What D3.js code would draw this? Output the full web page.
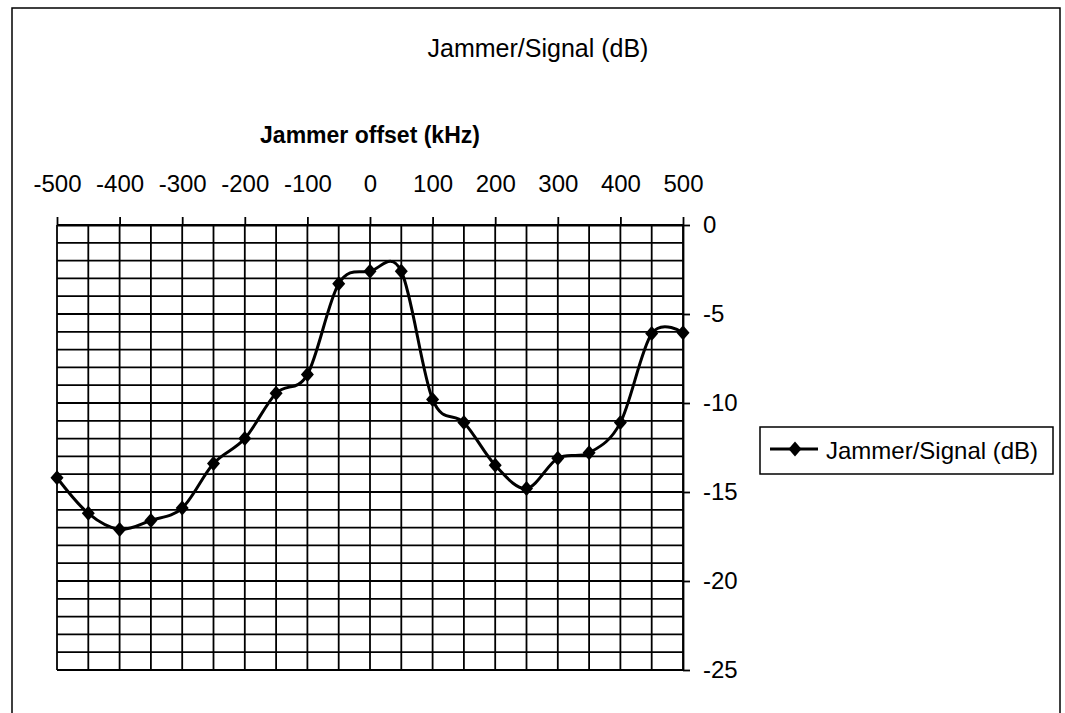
<!DOCTYPE html>
<html>
<head>
<meta charset="utf-8">
<script src="https://cdn.jsdelivr.net/npm/d3@7"></script>
<style>
  body { margin: 0; background: #fff; }
  svg { display: block; font-family: "Liberation Sans", Arial, sans-serif; }
</style>
</head>
<body>
<svg id="chart" width="1065" height="713"></svg>
<script>
// jammer offset in kHz
const offsets = [-500, -450, -400, -350, -300, -250, -200, -150, -100, -50, 0,
                 50, 100, 150, 200, 250, 300, 350, 400, 450, 500]
// jammer/signal ratio in dB
const jsValues = [-14.2, -16.2, -17.1, -16.6, -15.9, -13.4, -12.0, -9.45, -8.4, -3.3, -2.6,
                  -2.6, -9.8, -11.1, -13.5, -14.8, -13.1, -12.8, -11.1, -6.1, -6.05]
const xTicks = [-500, -400, -300, -200, -100, 0, 100, 200, 300, 400, 500]
const xGrid = d3.range(-500, 501, 50)
const yTicks = [0, -5, -10, -15, -20, -25]
const yGrid = d3.range(0, -26, -1)

const seriesName = 'Jammer/Signal (dB)'
const xTitle = 'Jammer offset (kHz)'

const svg = d3.select('#chart')
const plot = { left: 57, right: 683, top: 225, bottom: 670 }

const x = d3.scaleLinear().domain([-500, 500]).range([plot.left, plot.right])
const y = d3.scaleLinear().domain([0, -25]).range([plot.top, plot.bottom])

// outer chart frame
svg.append('rect')
  .attr('x', 12).attr('y', 8)
  .attr('width', 1048).attr('height', 720)
  .attr('fill', 'none').attr('stroke', '#000').attr('stroke-width', 1.5)

// title
svg.append('text')
  .attr('x', 538).attr('y', 57)
  .attr('text-anchor', 'middle')
  .attr('font-size', 25)
  .text(seriesName)

// x axis title
svg.append('text')
  .attr('x', (plot.left + plot.right) / 2).attr('y', 143)
  .attr('text-anchor', 'middle')
  .attr('font-size', 23).attr('font-weight', 'bold')
  .text(xTitle)

// grid
const grid = svg.append('g').attr('stroke', '#000').attr('stroke-width', 1.8)
grid.selectAll('.vgrid').data(xGrid).enter().append('line')
  .attr('class', 'vgrid')
  .attr('x1', d => x(d)).attr('x2', d => x(d))
  .attr('y1', plot.top).attr('y2', plot.bottom)
grid.selectAll('.hgrid').data(yGrid).enter().append('line')
  .attr('class', 'hgrid')
  .attr('x1', plot.left).attr('x2', plot.right)
  .attr('y1', d => y(d)).attr('y2', d => y(d))

// axes (plain hyphen for negatives, like the original)
const fmt = d => String(d)
const xAxis = svg.append('g')
  .attr('transform', `translate(0,${plot.top})`)
  .call(d3.axisTop(x).tickValues(xTicks).tickFormat(fmt)
    .tickSizeInner(8).tickSizeOuter(0).tickPadding(25))
const yAxis = svg.append('g')
  .attr('transform', `translate(${plot.right},0)`)
  .call(d3.axisRight(y).tickValues(yTicks).tickFormat(fmt)
    .tickSizeInner(7).tickSizeOuter(0).tickPadding(13))

;[xAxis, yAxis].forEach(a => {
  a.attr('font-family', null).attr('font-size', 24)
  a.select('.domain').attr('stroke', '#000').attr('stroke-width', 1.8)
  a.selectAll('.tick line').attr('stroke', '#000').attr('stroke-width', 1.8)
  a.selectAll('.tick text').attr('fill', '#000')
})

// series line, smoothed like the original
const pts = offsets.map((o, i) => [o, jsValues[i]])
const line = d3.line()
  .x(d => x(d[0])).y(d => y(d[1]))
  .curve(d3.curveCardinal.tension(0))
svg.append('path')
  .datum(pts)
  .attr('d', line)
  .attr('fill', 'none').attr('stroke', '#000').attr('stroke-width', 3)

const diamond = 'M0,-7.5L6.5,0L0,7.5L-6.5,0Z'
svg.selectAll('.marker').data(pts).enter().append('path')
  .attr('class', 'marker')
  .attr('transform', d => `translate(${x(d[0])},${y(d[1])})`)
  .attr('d', diamond)
  .attr('fill', '#000')

// legend
const legend = svg.append('g')
legend.append('rect')
  .attr('x', 760).attr('y', 427).attr('width', 293).attr('height', 47)
  .attr('fill', '#fff').attr('stroke', '#000').attr('stroke-width', 1.5)
legend.append('line')
  .attr('x1', 770).attr('x2', 818).attr('y1', 449).attr('y2', 449)
  .attr('stroke', '#000').attr('stroke-width', 3)
legend.append('path')
  .attr('transform', 'translate(795,449)')
  .attr('d', diamond).attr('fill', '#000')
legend.append('text')
  .attr('x', 826).attr('y', 459)
  .attr('font-size', 24)
  .text(seriesName)
</script>
</body>
</html>
